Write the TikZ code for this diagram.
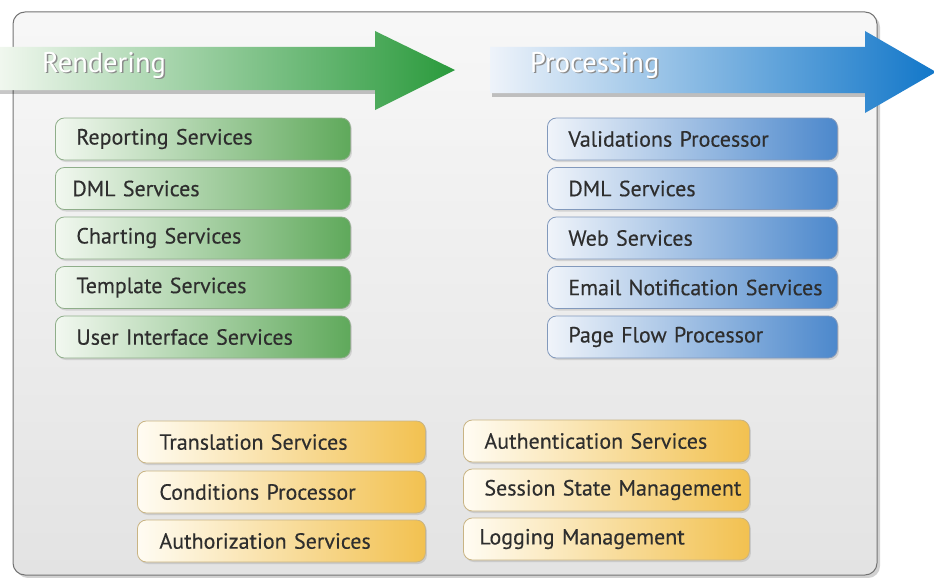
\documentclass[tikz,border=0pt]{standalone}
\usepackage{fontspec}
\setmainfont{PT Sans}
\newfontfamily\svcfont{PT Sans}[FakeBold=0.3]
\usetikzlibrary{shadows}
\definecolor{txt}{HTML}{2E2E2E}
\definecolor{gL}{HTML}{F2F8F0}
\definecolor{gD}{HTML}{5FA95B}
\definecolor{gB}{HTML}{8FAE8A}
\definecolor{bL}{HTML}{F0F4FA}
\definecolor{bD}{HTML}{4C88CC}
\definecolor{bB}{HTML}{8299BC}
\definecolor{yL}{HTML}{FFFCF3}
\definecolor{yD}{HTML}{F2C150}
\definecolor{yB}{HTML}{C9B483}
\definecolor{gArL}{HTML}{F0F7EE}
\definecolor{gArD}{HTML}{2A9A3C}
\definecolor{bArL}{HTML}{EEF3FA}
\definecolor{bArD}{HTML}{1277C9}
\begin{document}
\begin{tikzpicture}[x=1pt,y=-1pt,
  svcbox/.style={rectangle, rounded corners=9pt, minimum height=42pt, inner xsep=21pt,
     font=\svcfont\fontsize{22}{24}\selectfont, text=txt, line width=0.8pt, anchor=west,
     drop shadow={shadow xshift=1.5pt, shadow yshift=-2pt, opacity=0.25}},
  gbox/.style={svcbox, draw=gB, left color=gL, right color=gD, minimum width=295pt, text width=253pt},
  bbox/.style={svcbox, draw=bB, left color=bL, right color=bD, minimum width=290pt, text width=248pt},
  ybox/.style={svcbox, draw=yB, left color=yL, right color=yD, minimum width=288pt, text width=244pt, inner xsep=22pt},
  arlabel/.style={font=\fontsize{28.5}{30}\selectfont, anchor=base west, inner sep=0pt},
]
\useasboundingbox (0,0) rectangle (934,578);
% panel
\fill[black, opacity=0.18, rounded corners=12pt] (16,15) rectangle (880,578);
\draw[draw=black!55, line width=1pt, top color=black!3, bottom color=black!11, rounded corners=12pt] (13,12) rectangle (877,575);
% green arrow
\fill[black, opacity=0.22] (0,51) -- (375,51) -- (375,94) -- (0,94) -- cycle;
\shade[left color=gArL, right color=gArD] (0,47) -- (375,47) -- (375,31) -- (455,70) -- (375,110) -- (375,90) -- (0,90) -- cycle;
\node[arlabel, text=black!45] (rendsh) at (43.5,73.5) {Rendering};
\node[arlabel, text=white] (rend) at (42,72) {Rendering};
% blue arrow
\fill[black, opacity=0.22] (492,51) -- (865,51) -- (865,97) -- (492,97) -- cycle;
\shade[left color=bArL, right color=bArD] (490,47) -- (865,47) -- (865,31) -- (936,72) -- (865,113) -- (865,93) -- (490,93) -- cycle;
\node[arlabel, text=black!45] (procsh) at (531.5,73.5) {Processing};
\node[arlabel, text=white] (proc) at (530,72) {Processing};
% green boxes
\node[gbox] (g1) at (55,139) {Reporting Services};
\node[gbox, inner xsep=17pt, text width=261pt] (g2) at (55,188.5) {DML Services};
\node[gbox] (g3) at (55,238) {Charting Services};
\node[gbox] (g4) at (55,287.5) {Template Services};
\node[gbox] (g5) at (55,337) {User Interface Services};
% blue boxes
\node[bbox] (b1) at (547,139) {Validations Processor};
\node[bbox] (b2) at (547,188.5) {DML Services};
\node[bbox] (b3) at (547,238) {Web Services};
\node[bbox] (b4) at (547,287.5) {\mbox{Email Notification Services}};
\node[bbox] (b5) at (547,337) {Page Flow Processor};
% yellow boxes
\node[ybox] (y1) at (137,442) {Translation Services};
\node[ybox] (y2) at (137,492) {Conditions Processor};
\node[ybox] (y3) at (137,541) {Authorization Services};
\node[ybox, minimum width=286pt, inner xsep=21pt, text width=244pt] (y4) at (463,441) {Authentication Services};
\node[ybox, minimum width=286pt, inner xsep=21pt, text width=244pt] (y5) at (463,490) {\mbox{Session State Management}};
\node[ybox, minimum width=286pt, inner xsep=16pt, text width=254pt] (y6) at (463,539) {Logging Management};
\end{tikzpicture}
\end{document}
